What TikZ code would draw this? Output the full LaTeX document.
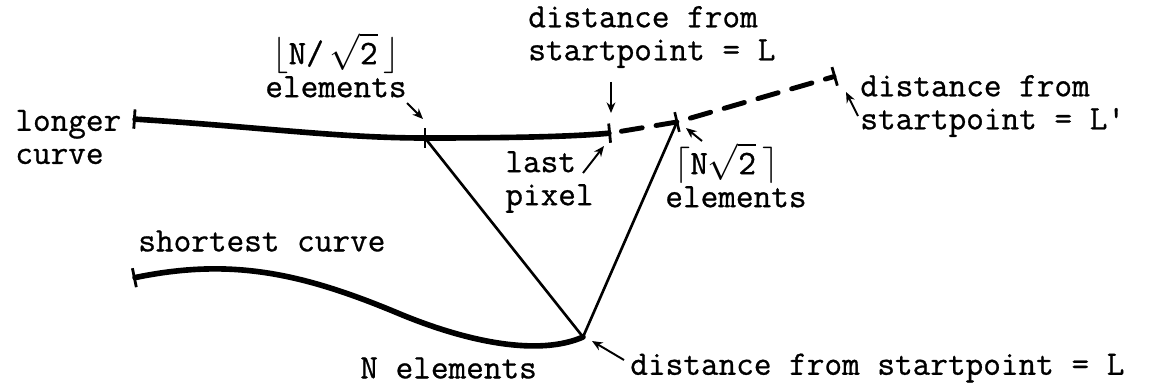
\documentclass[tikz,border=0pt]{standalone}
\usepackage{fontspec}
\setmonofont{Latin Modern Mono}[FakeBold=0.8]
\usetikzlibrary{arrows.meta}

\begin{document}
\begin{tikzpicture}[x=0.02cm,y=-0.02cm,
  txt/.style={font=\ttfamily\fontsize{19.5}{18.8}\selectfont,align=left,inner sep=0pt,anchor=west},
  curve/.style={line width=3.2pt,line cap=round},
  dline/.style={line width=2.8pt,line cap=round,dash pattern=on 12pt off 8pt,dash phase=14pt},
  conn/.style={line width=1.5pt},
  tick/.style={line width=1.5pt},
  ann/.style={line width=1.1pt,-{Stealth[length=6pt,width=5pt]}},
  endbar/.tip={Bar[width=11pt,line width=1.6pt]}]
\useasboundingbox (0,0) rectangle (1151,385);
% points on the curves
\coordinate (ls) at (133,119);
\coordinate (lk) at (425,138);
\coordinate (le) at (611,133);
\coordinate (ds) at (677,122);
\coordinate (de) at (836,76);
\coordinate (ss) at (133,278);
\coordinate (sm) at (400,314);
\coordinate (se) at (583,337);
% texts
\node[txt] (lc) at (15,137) {longer\\curve};
\node[txt] (fl) at (265,65) {\hspace{4pt}$\lfloor$N/\,$\sqrt{\mbox{2}}\,\rfloor$\\elements};
\node[txt] (mid) at (528,37) {distance from\\startpoint = L};
\node[txt] (rt) at (860,106) {distance from\\startpoint = L'};
\node[txt] (lp) at (505,182) {last\\pixel};
\node[txt] (cl) at (665,175) {\hspace{5pt}$\lceil$N$\sqrt{\mbox{2}}\,\rceil$\\elements};
\node[txt] (sc) at (138,241) {shortest curve};
\node[txt] (ne) at (360,368) {N elements};
\node[txt] (dl) at (630,368) {distance from startpoint = L};
% curves
\draw[curve,endbar-endbar] (ls) .. controls (260,127) and (340,138) .. (lk) .. controls (500,138) and (570,137) .. (le);
\draw[curve,endbar-] (ss) .. controls (230,258) and (300,272) .. (sm) .. controls (470,343) and (540,356) .. (se);
\draw[dline,-endbar] (le) -- (ds) -- (de);
\draw[conn] (lk) -- (se) -- (ds);
% element marks
\draw[tick] ([yshift=5.5pt]lk) -- ([yshift=-5.5pt]lk);
\draw[tick] ([shift={(-1.3pt,5.6pt)}]ds) -- ([shift={(1.3pt,-5.6pt)}]ds);
% pointers
\coordinate (p1) at (407,103); \coordinate (q1) at (423,119);
\coordinate (p2) at (611,82);  \coordinate (q2) at (611,113);
\coordinate (p3) at (583,173); \coordinate (q3) at (604,146);
\coordinate (p4) at (702,141); \coordinate (q4) at (686,128);
\coordinate (p5) at (858,116); \coordinate (q5) at (846,92);
\coordinate (p6) at (624,360); \coordinate (q6) at (592,341);
\foreach \a/\b in {p1/q1,p2/q2,p3/q3,p4/q4,p5/q5,p6/q6}
  \draw[ann] (\a) -- (\b);
\end{tikzpicture}
\end{document}
